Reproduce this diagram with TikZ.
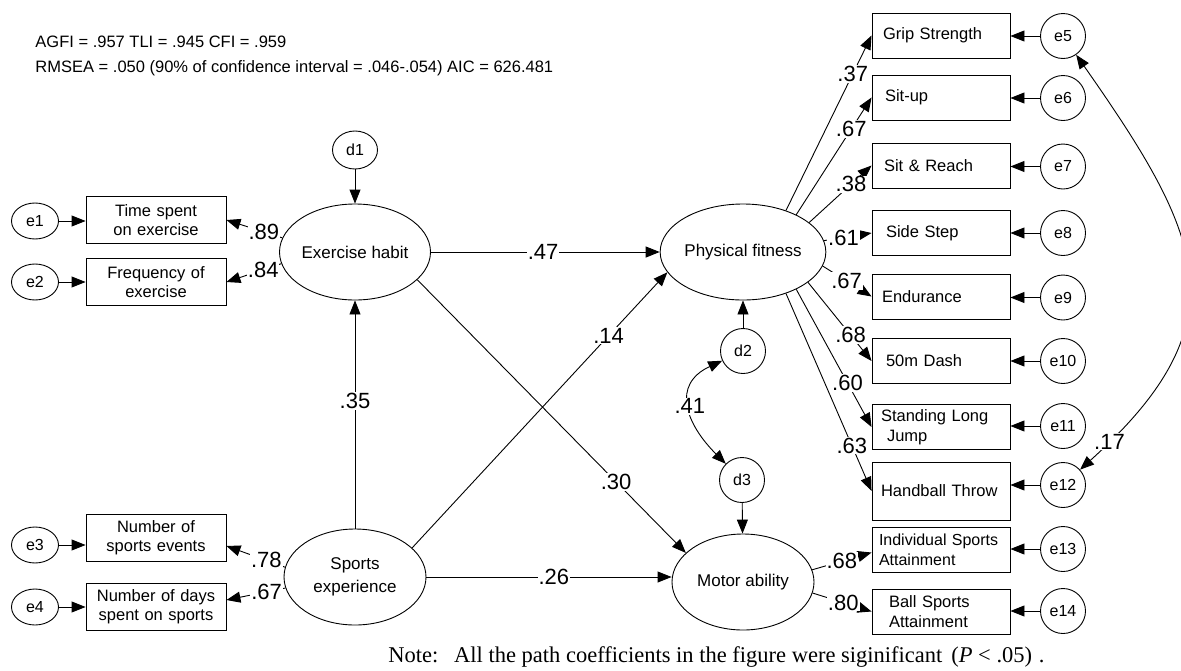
\documentclass[tikz,border=0pt]{standalone}
\usepackage{fontspec}
\setmainfont{Liberation Sans}
\newfontfamily\notefont{Liberation Serif}
\usetikzlibrary{arrows.meta,shapes.geometric,calc}
\begin{document}
\begin{tikzpicture}[x=1pt,y=-1pt,line width=0.9pt,
  lat/.style={ellipse,draw,minimum width=142pt,minimum height=96pt,inner sep=0pt,align=center,font=\fontsize{17}{23}\selectfont},
  obsr/.style={rectangle,draw,minimum width=138pt,minimum height=45pt,inner xsep=7pt,inner ysep=0pt,text width=124pt,align=left,font=\fontsize{16.5}{20}\selectfont},
  obsl/.style={rectangle,draw,minimum width=140pt,minimum height=47pt,inner sep=0pt,text width=134pt,align=center,font=\fontsize{16.5}{19}\selectfont},
  errr/.style={circle,draw,minimum size=45pt,inner sep=0pt,font=\fontsize{16}{16}\selectfont},
  errl/.style={ellipse,draw,minimum width=47pt,minimum height=36pt,inner sep=0pt,font=\fontsize{16}{16}\selectfont},
  coef/.style={fill=white,inner sep=1pt,font=\fontsize{22}{22}\selectfont},
  arr/.style={-{Triangle[length=14pt,width=11pt]}},
  dbl/.style={{Triangle[length=14pt,width=11pt]}-{Triangle[length=14pt,width=11pt]}},
  fittext/.style={anchor=base west,inner sep=0pt,font=\fontsize{16.5}{16.5}\selectfont}
]
\useasboundingbox (0,0) rectangle (1181,670);

% fit indices
\node[fittext] (fit1) at (35,47) {AGFI = .957 TLI = .945 CFI = .959};
\node[fittext] (fit2) at (35,72) {RMSEA = .050 (90\% of confidence interval = .046-.054) AIC = 626.481};

% latent variables
\node[lat] (eh) at (355,252) {Exercise habit};
\node[lat] (se) at (355,577) {Sports\\experience};
\node[lat] (pf) at (743,252) {Physical fitness};
\node[lat] (ma) at (743,582) {Motor ability};

% disturbances
\node[errl,minimum width=45pt,minimum height=38pt] (d1) at (355,150) {d1};
\node[errr] (d2) at (743,351) {d2};
\node[errr] (d3) at (742,480) {d3};

% left observed
\node[obsl] (x1) at (156,220) {Time spent\\on exercise};
\node[obsl] (x2) at (156,282) {Frequency of\\exercise};
\node[obsl] (x3) at (156,538) {Number of\\sports events};
\node[obsl] (x4) at (156,607) {Number of days\\spent on sports};

\node[errl] (e1) at (35,221) {e1};
\node[errl] (e2) at (35,282) {e2};
\node[errl] (e3) at (35,545) {e3};
\node[errl] (e4) at (35,607) {e4};

% right observed
\node[obsr] (y1) at (941,35.5) {\hspace*{4pt}Grip Strength};
\node[obsr] (y2) at (941,97.5) {\hspace*{6pt}Sit-up};
\node[obsr] (y3) at (941,165.5) {\hspace*{5pt}Sit \& Reach};
\node[obsr] (y4) at (941,233) {\hspace*{7pt}Side Step};
\node[obsr] (y5) at (941,296.5) {\hspace*{3pt}Endurance};
\node[obsr] (y6) at (941,361) {\hspace*{7pt}50m Dash};
\node[obsr] (y7) at (941,427) {\hspace*{2pt}Standing Long\\\hspace*{8pt}Jump};
\node[obsr,minimum height=58pt] (y8) at (941,491) {\hspace*{2pt}Handball Throw};
\node[obsr,font=\fontsize{16}{20}\selectfont] (y9) at (941,549.5) {Individual Sports\\Attainment};
\node[obsr] (y10) at (941,611.5) {\hspace*{10pt}Ball Sports\\\hspace*{10pt}Attainment};

\node[errr] (e5) at (1063,36) {e5};
\node[errr] (e6) at (1063,98) {e6};
\node[errr] (e7) at (1063,166.5) {e7};
\node[errr] (e8) at (1063,233) {e8};
\node[errr] (e9) at (1063,297.5) {e9};
\node[errr] (e10) at (1063,361) {e10};
\node[errr] (e11) at (1063,426) {e11};
\node[errr] (e12) at (1063,485) {e12};
\node[errr] (e13) at (1063,549) {e13};
\node[errr] (e14) at (1063,611) {e14};

% error arrows left
\draw[arr] (e1) -- (e1 -| x1.west);
\draw[arr] (e2) -- (e2 -| x2.west);
\draw[arr] (e3) -- (e3 -| x3.west);
\draw[arr] (e4) -- (e4 -| x4.west);

% error arrows right
\foreach \e/\y in {e5/y1,e6/y2,e7/y3,e8/y4,e9/y5,e10/y6,e11/y7,e12/y8,e13/y9,e14/y10}
  \draw[arr] (\e) -- (\e -| \y.east);

% left loadings
\draw[arr] (eh.169) -- node[coef,pos=0.33]{.89} (x1.east);
\draw[arr] (eh.189) -- node[coef,pos=0.33]{.84} (x2.east);
\draw[arr] (se.172) -- node[coef,pos=0.32]{.78} ([yshift=-8pt]x3.east);
\draw[arr] (se.189) -- node[coef,pos=0.32]{.67} ([yshift=7pt]x4.east);

% structural paths
\draw[arr] (eh) -- node[coef,pos=0.49]{.47} (pf);
\draw[arr] (se.27) -- node[coef,pos=0.77]{.14} (pf.195);
\draw[arr] (eh.-24) -- node[coef,pos=0.74]{.30} (ma.153);
\draw[arr] (se.east) -- node[coef,pos=0.52]{.26} (se.east -| ma.west);
\draw[arr] (se) -- node[coef,pos=0.56]{.35} (eh);
\draw[arr] (d1) -- (eh);
\draw[arr] (d2) -- (pf);
\draw[arr] (d3) -- (ma);
\draw[dbl] (d2) to[out=205,in=135,looseness=1.4] node[coef]{.41} (d3);

% right loadings
\draw[arr] (pf.44) -- node[coef,pos=0.78]{.37} (y1.west);
\draw[arr] (pf.35) -- node[coef,pos=0.73]{.67} (y2.west);
\draw[arr] (pf.24) -- node[coef,pos=0.67]{.38} (y3.west);
\draw[arr] (pf.8) -- node[coef,pos=0.41]{.61} (y4.west);
\draw[arr] (pf.-10) -- node[coef,pos=0.49]{.67} (y5.west);
\draw[arr] (pf.-25) -- node[coef,pos=0.67]{.68} (y6.west);
\draw[arr] (pf.-35) -- node[coef,pos=0.68]{.60} (y7.west);
\draw[arr] (pf.-44) -- node[coef,pos=0.77]{.63} (y8.west);
\draw[arr] (ma.10) -- node[coef,pos=0.5]{.68} ([yshift=-3pt]y9.west);
\draw[arr] (ma.-9) -- node[coef,pos=0.52]{.80} (y10.west);

% covariance e5-e12
\draw[dbl] (e5) to[out=-55,in=42,looseness=1.36] node[coef,pos=0.935]{.17} (e12);

% note
\node[anchor=base west,inner sep=0pt,font=\notefont\fontsize{22.5}{22.5}\selectfont] (note) at (388,662)
  {Note:\hspace{0.7em}All the path coefficients in the figure were siginificant\hspace{0.4em}(\textit{P} < .05)\hspace{0.3em}.};
\end{tikzpicture}
\end{document}
